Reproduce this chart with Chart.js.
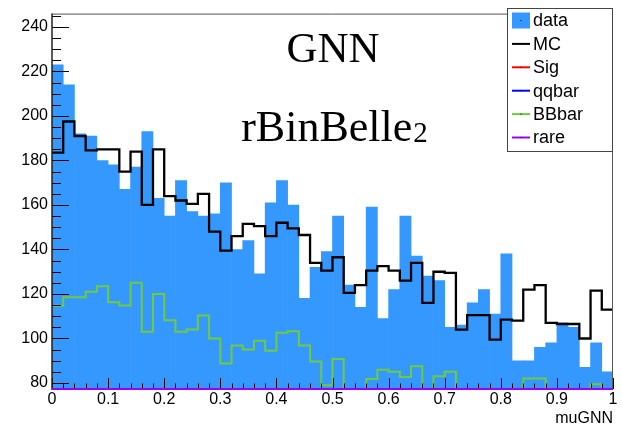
<!DOCTYPE html>
<html>
<head>
<meta charset="utf-8">
<script src="https://cdn.jsdelivr.net/npm/chart.js@4/dist/chart.umd.min.js"></script>
<style>
  html, body { margin: 0; padding: 0; background: #fff; }
  canvas { display: block; }
</style>
</head>
<body>
<canvas id="muGNNPlot" width="622" height="424"></canvas>
<script>
// muGNN distribution, 50 bins on [0, 1]
const N_BINS = 50;
const X_MIN = 0, X_MAX = 1;
const Y_MIN = 77.3, Y_MAX = 246;

const dataCounts = [223, 214, 192, 191, 180, 178, 167, 177, 193, 163,
                    155, 171, 157, 155, 156, 170, 140, 144, 129, 161,
                    171, 160, 118, 132, 139, 155, 124, 114, 159, 109,
                    122, 155, 137, 128, 126, 105, 106, 116, 122, 111,
                    138, 90, 90, 96, 98, 107, 105, 87, 98, 85];

const mcCounts = [183.5, 197.5, 191, 184.5, 185, 185, 175, 184, 160, 185,
                  164, 162, 160.5, 165, 148, 139.5, 146, 151.5, 150.5, 146,
                  152, 149.5, 146.5, 134, 130.5, 136.5, 120.5, 124, 130.5, 132.5,
                  130.5, 126, 134, 116, 130, 129.5, 104, 110.5, 110.5, 99.5,
                  108.5, 108, 122, 124, 107, 106.5, 106.5, 100, 121.5, 113];

const bbbarCounts = [114.7, 118.5, 118.5, 121, 123.5, 116.3, 114.8, 125, 103, 120,
                     108.2, 103, 104, 110.3, 100, 88.8, 96.8, 95, 99, 94.5,
                     102.6, 103.2, 96.8, 89.7, 79, 90.8, 74, 72, 81.8, 86,
                     85, 82.7, 87.5, 75, 83, 85, 74, 70, 72, 70,
                     71, 74, 82, 82, 73, 70, 71, 68, 79.4, 66];

// these three stay under the axis floor everywhere
const sigCounts = [1, 1, 1, 1, 1, 1, 1, 1, 1, 1,
                   1, 1, 1, 1, 1, 1, 1, 1, 1, 1,
                   1, 1, 1, 1, 1, 1, 1, 1, 1, 1,
                   1, 1, 1, 1, 1, 1, 1, 1, 1, 1,
                   1, 1, 1, 1, 1, 1, 1, 1, 1, 1];
const qqbarCounts = [50, 50, 50, 50, 50, 50, 50, 50, 50, 50,
                     45, 45, 45, 45, 45, 45, 45, 45, 45, 45,
                     45, 45, 45, 45, 45, 45, 45, 45, 45, 45,
                     40, 40, 40, 40, 40, 40, 40, 40, 40, 40,
                     40, 40, 40, 40, 40, 40, 40, 40, 40, 40];
const rareCounts = [3, 3, 3, 3, 3, 3, 3, 3, 3, 3,
                    3, 3, 3, 3, 3, 3, 3, 3, 3, 3,
                    3, 3, 3, 3, 3, 3, 3, 3, 3, 3,
                    3, 3, 3, 3, 3, 3, 3, 3, 3, 3,
                    3, 3, 3, 3, 3, 3, 3, 3, 3, 3];

const xTickValues = [0, 0.1, 0.2, 0.3, 0.4, 0.5, 0.6, 0.7, 0.8, 0.9, 1];
const xTickLabels = ['0', '0.1', '0.2', '0.3', '0.4', '0.5', '0.6', '0.7', '0.8', '0.9', '1'];
const yTickValues = [80, 100, 120, 140, 160, 180, 200, 220, 240];

const BIN_W = (X_MAX - X_MIN) / N_BINS;
const SANS = '"Liberation Sans", Arial, Helvetica, sans-serif';
const SERIF = '"Liberation Serif", "Times New Roman", serif';

const colors = {
  data: '#3598fe',
  mc: '#000000',
  sig: '#ff0000',
  qqbar: '#0000ff',
  bbbar: '#6fcb3c',
  rare: '#9a00ff'
};

// outline of a histogram: flat across each bin, ROOT-style floor clamping
function histOutline(values) {
  const pts = [];
  values.forEach((v, i) => {
    const y = Math.max(v, Y_MIN);
    pts.push({ x: X_MIN + i * BIN_W, y: y });
    pts.push({ x: X_MIN + (i + 1) * BIN_W, y: y });
  });
  return pts;
}

function lineSet(label, values, color, order, width) {
  return {
    type: 'line',
    label: label,
    data: histOutline(values),
    borderColor: color,
    backgroundColor: color,
    borderWidth: width || 2,
    borderJoinStyle: 'miter',
    borderCapStyle: 'butt',
    pointRadius: 0,
    tension: 0,
    fill: false,
    order: order,
    clip: { left: 0, top: 0, right: 0, bottom: 2 }
  };
}

const rootFrame = {
  id: 'rootFrame',
  afterDatasetsDraw(chart) {
    const { ctx, chartArea: a, scales: { x, y } } = chart;
    ctx.save();
    ctx.strokeStyle = '#000';
    ctx.lineWidth = 1;

    // y ticks, inside the frame
    ctx.beginPath();
    for (let v = 75; v <= 250; v += 5) {
      if (v < Y_MIN || v > Y_MAX) continue;
      const py = Math.round(y.getPixelForValue(v)) + 0.5;
      const len = v % 20 === 0 ? 17 : 9;
      ctx.moveTo(a.left, py);
      ctx.lineTo(a.left + len, py);
    }
    // x ticks, one per bin edge
    for (let i = 0; i <= N_BINS; i++) {
      const px = Math.round(x.getPixelForValue(X_MIN + i * BIN_W)) + 0.5;
      const len = i % 5 === 0 ? 11 : 5.5;
      ctx.moveTo(px, a.bottom);
      ctx.lineTo(px, a.bottom - len);
    }
    ctx.stroke();

    // frame
    ctx.strokeStyle = '#555';
    ctx.beginPath();
    ctx.moveTo(a.left, a.top + 0.5);
    ctx.lineTo(a.right, a.top + 0.5);
    ctx.moveTo(a.right - 0.5, a.top);
    ctx.lineTo(a.right - 0.5, a.bottom);
    ctx.stroke();
    ctx.strokeStyle = '#222';
    ctx.lineWidth = 1.5;
    ctx.beginPath();
    ctx.moveTo(a.left, a.top);
    ctx.lineTo(a.left, a.bottom + 1);
    ctx.stroke();

    // rare sits on the floor, redraw it over the tick bases
    ctx.strokeStyle = colors.rare;
    ctx.lineWidth = 2;
    ctx.beginPath();
    ctx.moveTo(a.left, a.bottom);
    ctx.lineTo(a.right, a.bottom);
    ctx.stroke();
    ctx.restore();
  },
  afterDraw(chart) {
    const { ctx, chartArea: a } = chart;
    ctx.save();

    // titles in the pad
    ctx.fillStyle = '#000';
    ctx.textAlign = 'center';
    ctx.textBaseline = 'alphabetic';
    ctx.font = '43px ' + SERIF;
    ctx.fillText('GNN', 333, 62);
    const main = 'rBinBelle', sub = '2';
    ctx.font = '44px ' + SERIF;
    const wMain = ctx.measureText(main).width;
    ctx.font = '29px ' + SERIF;
    const wSub = ctx.measureText(sub).width;
    const x0 = 334 - (wMain + wSub) / 2;
    ctx.textAlign = 'left';
    ctx.font = '44px ' + SERIF;
    ctx.fillText(main, x0, 141);
    ctx.font = '29px ' + SERIF;
    ctx.fillText(sub, x0 + wMain + 1, 142);

    // axis title
    ctx.font = '16px ' + SANS;
    ctx.textAlign = 'right';
    ctx.fillText('muGNN', a.right, 423);

    // legend box
    const lx = 507.5, ly = 8.5, lw = 105, lh = 143;
    ctx.fillStyle = '#fff';
    ctx.fillRect(lx, ly, lw, lh);
    ctx.strokeStyle = '#444';
    ctx.lineWidth = 1;
    ctx.strokeRect(lx, ly, lw, lh);

    const entries = chart.data.datasets;
    ctx.font = '18px ' + SANS;
    ctx.textAlign = 'left';
    ctx.textBaseline = 'middle';
    entries.forEach((ds, i) => {
      const yc = 20.5 + i * 23.4;
      if (ds.type === 'bar') {
        ctx.fillStyle = ds.backgroundColor;
        ctx.fillRect(512, yc - 8, 18, 16);
        ctx.fillStyle = '#000';
        ctx.fillRect(520.5, yc - 0.5, 1, 1);
      } else {
        ctx.strokeStyle = ds.borderColor;
        ctx.lineWidth = 2;
        ctx.beginPath();
        ctx.moveTo(512, yc);
        ctx.lineTo(530, yc);
        ctx.stroke();
        ctx.fillStyle = '#000';
        ctx.fillRect(520.5, yc - 0.5, 1, 1);
      }
      ctx.fillStyle = '#000';
      ctx.fillText(ds.label, 533, yc + 1);
    });
    ctx.restore();
  }
};

const ctx = document.getElementById('muGNNPlot').getContext('2d');
new Chart(ctx, {
  type: 'bar',
  data: {
    datasets: [
      {
        type: 'bar',
        label: 'data',
        data: dataCounts.map((c, i) => ({ x: X_MIN + (i + 0.5) * BIN_W, y: c })),
        backgroundColor: colors.data,
        borderWidth: 0,
        barPercentage: 1,
        categoryPercentage: 1,
        order: 10
      },
      lineSet('MC', mcCounts, colors.mc, 5, 2.3),
      lineSet('Sig', sigCounts, colors.sig, 4),
      lineSet('qqbar', qqbarCounts, colors.qqbar, 3),
      lineSet('BBbar', bbbarCounts, colors.bbbar, 2),
      lineSet('rare', rareCounts, colors.rare, 1)
    ]
  },
  options: {
    responsive: false,
    devicePixelRatio: 1,
    animation: false,
    layout: { padding: { top: 8, right: 9, left: 0, bottom: 0 } },
    plugins: {
      legend: { display: false },
      tooltip: { enabled: false },
      title: { display: false }
    },
    scales: {
      x: {
        type: 'linear',
        min: X_MIN,
        max: X_MAX,
        offset: false,
        grid: { display: false, drawTicks: false },
        border: { display: false },
        afterBuildTicks: axis => { axis.ticks = xTickValues.map(v => ({ value: v })); },
        afterFit: axis => { axis.height = 35; },
        ticks: {
          autoSkip: false,
          maxRotation: 0,
          padding: 1,
          color: '#000',
          font: { family: SANS, size: 16 },
          callback: (v, i) => xTickLabels[i]
        }
      },
      y: {
        type: 'linear',
        min: Y_MIN,
        max: Y_MAX,
        grid: { display: false, drawTicks: false },
        border: { display: false },
        afterBuildTicks: axis => { axis.ticks = yTickValues.map(v => ({ value: v })); },
        afterFit: axis => { axis.width = 52; },
        ticks: {
          padding: 4,
          color: '#000',
          font: { family: SANS, size: 16 },
          callback: v => String(v)
        }
      }
    }
  },
  plugins: [rootFrame]
});
</script>
</body>
</html>
